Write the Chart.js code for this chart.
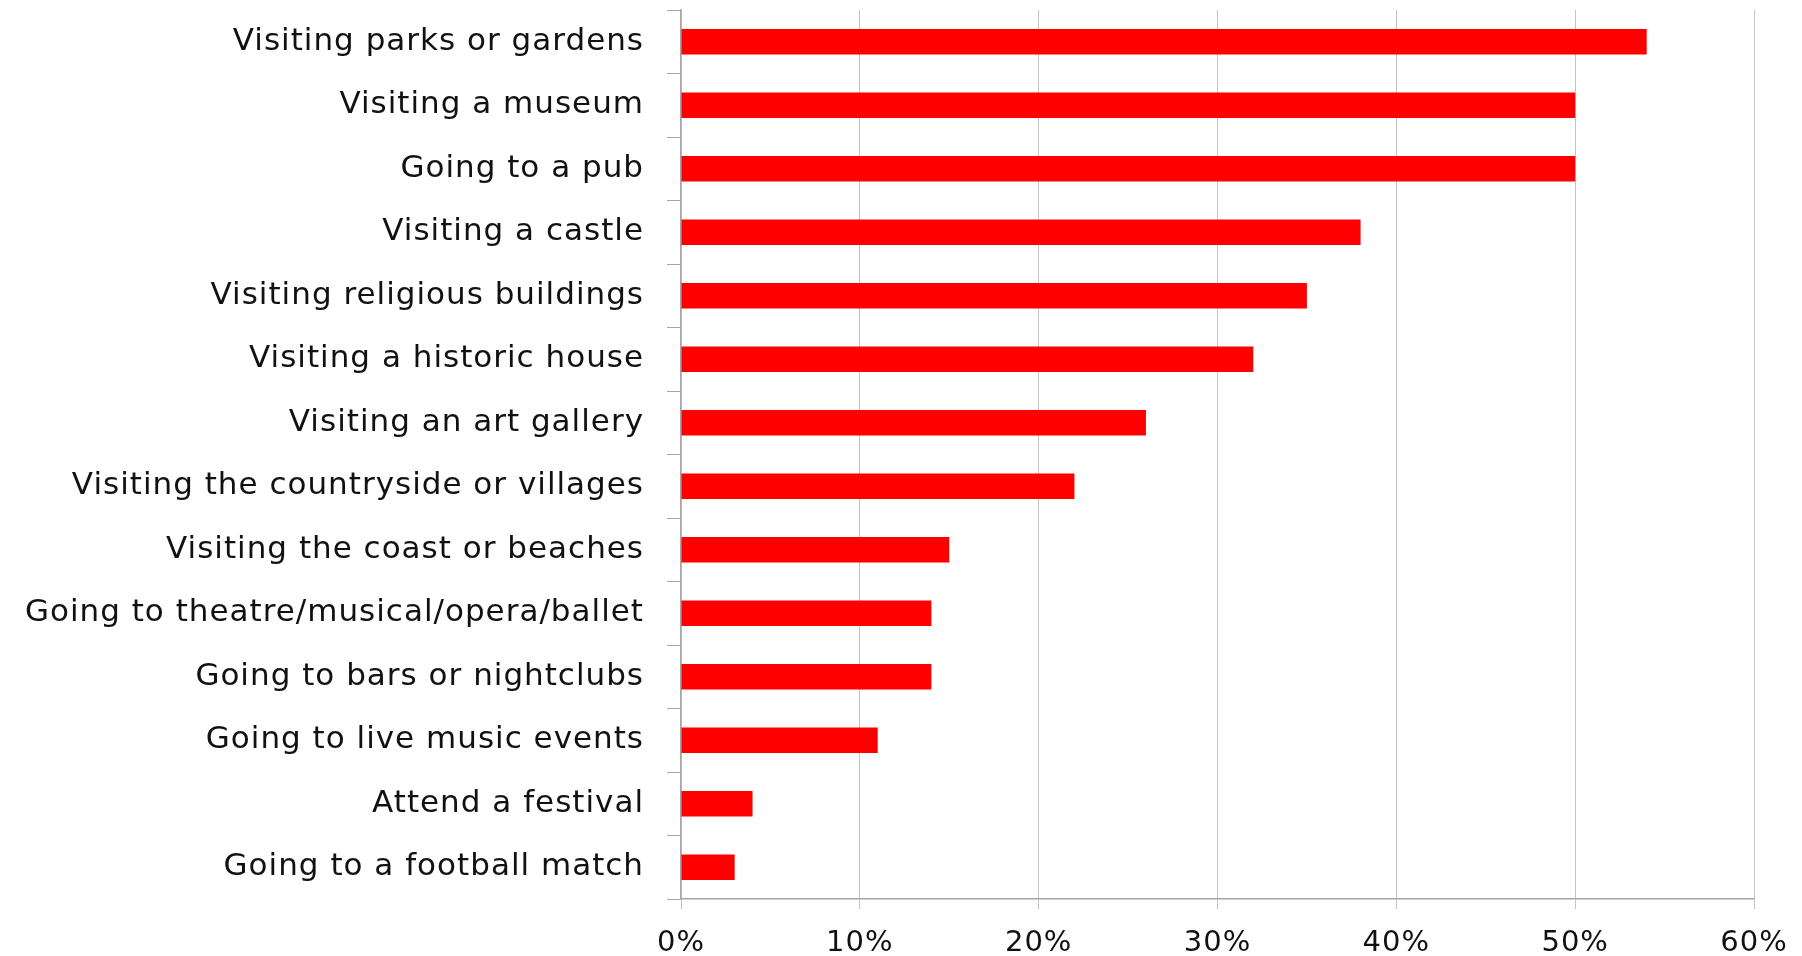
<!DOCTYPE html>
<html>
<head>
<meta charset="utf-8">
<script src="https://cdn.jsdelivr.net/npm/chart.js@4/dist/chart.umd.min.js"></script>
<style>
  html, body { margin: 0; padding: 0; background: #ffffff; }
  #wrap { width: 1802px; height: 956px; }
</style>
</head>
<body>
<div id="wrap"><canvas id="c" width="1802" height="956"></canvas></div>
<script>
const categories = [
  "Visiting parks or gardens",
  "Visiting a museum",
  "Going to a pub",
  "Visiting a castle",
  "Visiting religious buildings",
  "Visiting a historic house",
  "Visiting an art gallery",
  "Visiting the countryside or villages",
  "Visiting the coast or beaches",
  "Going to theatre/musical/opera/ballet",
  "Going to bars or nightclubs",
  "Going to live music events",
  "Attend a festival",
  "Going to a football match"
];
const shares = [54, 50, 50, 38, 35, 32, 26, 22, 15, 14, 14, 11, 4, 3];
const xTicks = [0, 10, 20, 30, 40, 50, 60];

const FONT = "'DejaVu Sans', 'Open Sans', sans-serif";

const spacingPlugin = {
  id: 'spacing',
  beforeDraw(chart) { if ('letterSpacing' in chart.ctx) chart.ctx.letterSpacing = '1px'; }
};

new Chart(document.getElementById('c'), {
  type: 'bar',
  data: {
    labels: categories,
    datasets: [{
      data: shares,
      backgroundColor: '#ff0000',
      borderWidth: 0,
      barPercentage: 0.4,
      categoryPercentage: 1.0
    }]
  },
  plugins: [spacingPlugin],
  options: {
    indexAxis: 'y',
    responsive: false,
    devicePixelRatio: 1,
    animation: false,
    layout: { padding: { top: 10, right: 48, bottom: 0, left: 0 } },
    plugins: { legend: { display: false }, tooltip: { enabled: false } },
    scales: {
      x: {
        min: 0, max: 60,
        afterBuildTicks: (s) => { s.ticks = xTicks.map(v => ({ value: v })); },
        afterFit: (s) => { s.height = 956 - 899; s.paddingLeft = 0; s.paddingRight = 0; },
        grid: { color: '#c4c4c4', lineWidth: 1, tickLength: 10, drawTicks: true },
        border: { color: '#a6a6a6', width: 1.5 },
        ticks: {
          callback: (v) => v + '%',
          color: '#111111',
          font: { family: FONT, size: 29 },
          padding: 17,
          maxRotation: 0
        }
      },
      y: {
        afterFit: (s) => { s.width = 681; s.paddingTop = 0; s.paddingBottom = 0; },
        grid: { drawOnChartArea: false, color: '#a6a6a6', tickLength: 14, offset: true },
        border: { color: '#a6a6a6', width: 1.5 },
        ticks: {
          color: '#111111',
          font: { family: FONT, size: 31 },
          padding: 23,
          autoSkip: false
        }
      }
    }
  }
});
</script>
</body>
</html>
